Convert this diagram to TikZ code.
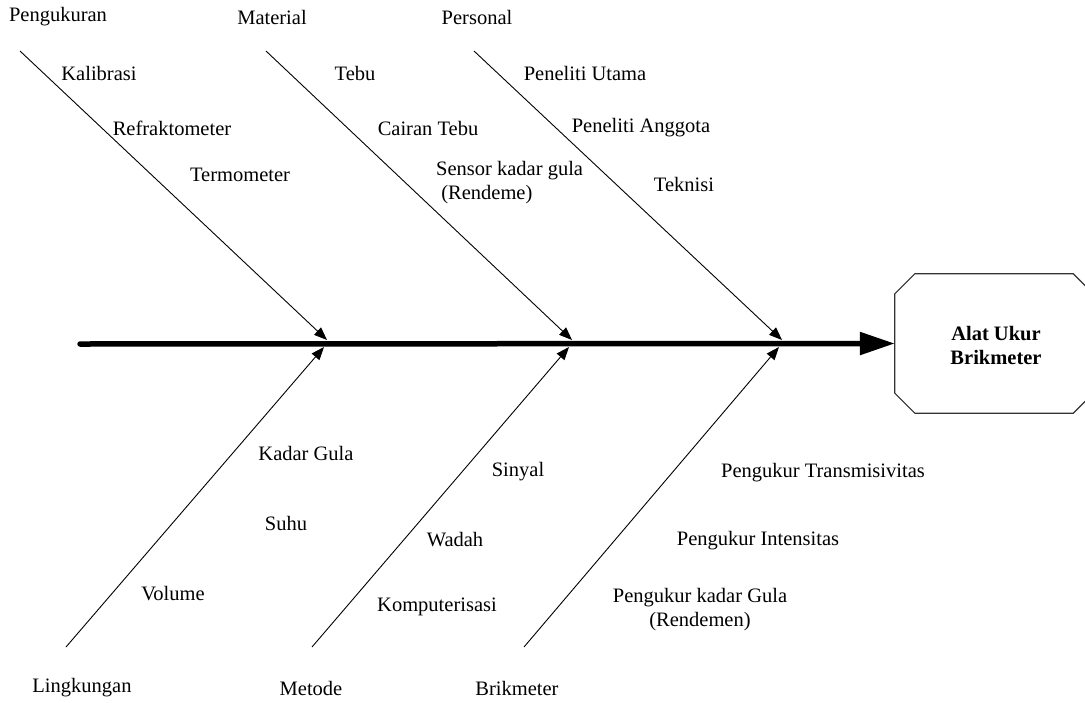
\documentclass[tikz,border=0pt]{standalone}
\usepackage{fontspec}
\setmainfont{Liberation Serif}
\usetikzlibrary{arrows.meta,calc}
\begin{document}
\begin{tikzpicture}[x=1pt,y=-1pt,
  lbl/.style={font=\fontsize{20.5}{24}\selectfont, inner sep=0pt, anchor=center},
  bone/.style={line width=0.9pt, -{Triangle[length=13pt,width=10pt]}},
  spine/.style={line width=5.5pt, line cap=round, -{Triangle[length=35pt,width=22pt]}},
  octa/.style={line width=1.2pt, draw=black!80}]
\useasboundingbox (0,0) rectangle (1085,702);

% head
\node[minimum width=198pt, minimum height=139pt, inner sep=0pt] (head) at (994,343.5) {};
\draw[octa] ($(head.north west)+(0,20)$) -- ($(head.north west)+(20,0)$)
  -- ($(head.north east)+(-20,0)$) -- ($(head.north east)+(0,20)$)
  -- ($(head.south east)+(0,-20)$) -- ($(head.south east)+(-20,0)$)
  -- ($(head.south west)+(20,0)$) -- ($(head.south west)+(0,-20)$) -- cycle;
\node[lbl, font=\fontsize{20.5}{24}\selectfont\bfseries, align=center] (headtxt) at (996,345) {Alat Ukur\\Brikmeter};

% spine
\coordinate (spinestart) at (80,344);
\draw[spine] (spinestart) -- (head.west);

% bones
\coordinate (b1s) at (20,51);   \coordinate (b1e) at (327,340);
\coordinate (b2s) at (266,51);  \coordinate (b2e) at (572,340);
\coordinate (b3s) at (474,51);  \coordinate (b3e) at (782,340);
\coordinate (b4s) at (66,647);  \coordinate (b4e) at (324,347);
\coordinate (b5s) at (312,647); \coordinate (b5e) at (569,347);
\coordinate (b6s) at (524,647); \coordinate (b6e) at (779,347);
\draw[bone] (b1s) -- (b1e);
\draw[bone] (b2s) -- (b2e);
\draw[bone] (b3s) -- (b3e);
\draw[bone] (b4s) -- (b4e);
\draw[bone] (b5s) -- (b5e);
\draw[bone] (b6s) -- (b6e);

% category labels
\node[lbl] (pengukuran) at (58,17) {Pengukuran};
\node[lbl] (material) at (272,17) {Material};
\node[lbl] (personal) at (477,17) {Personal};
\node[lbl] (lingkungan) at (82,688) {Lingkungan};
\node[lbl] (metode) at (311,688) {Metode};
\node[lbl] (brikmeter) at (517,688) {Brikmeter};

% causes - top
\node[lbl] (kalibrasi) at (99,73) {Kalibrasi};
\node[lbl] (refrakto) at (172,128) {Refraktometer};
\node[lbl] (termo) at (240,175) {Termometer};
\node[lbl] (tebu) at (355,73) {Tebu};
\node[lbl] (cairan) at (428,128) {Cairan Tebu};
\node[lbl, anchor=north west, align=left] (sensor) at (436,161) {Sensor kadar gula\\\hspace{0.25em}(Rendeme)};
\node[lbl] (utama) at (585,73) {Peneliti Utama};
\node[lbl] (anggota) at (641,128) {Peneliti Anggota};
\node[lbl] (teknisi) at (684,184) {Teknisi};

% causes - bottom
\node[lbl] (kadargula) at (306,453) {Kadar Gula};
\node[lbl] (suhu) at (286,523) {Suhu};
\node[lbl] (volume) at (173,594) {Volume};
\node[lbl] (sinyal) at (518,472) {Sinyal};
\node[lbl] (wadah) at (455,540) {Wadah};
\node[lbl] (komp) at (437,607) {Komputerisasi};
\node[lbl] (transm) at (823,473) {Pengukur Transmisivitas};
\node[lbl] (intens) at (758,541) {Pengukur Intensitas};
\node[lbl, align=center] (pkg) at (700,610) {Pengukur kadar Gula\\(Rendemen)};
\end{tikzpicture}
\end{document}
